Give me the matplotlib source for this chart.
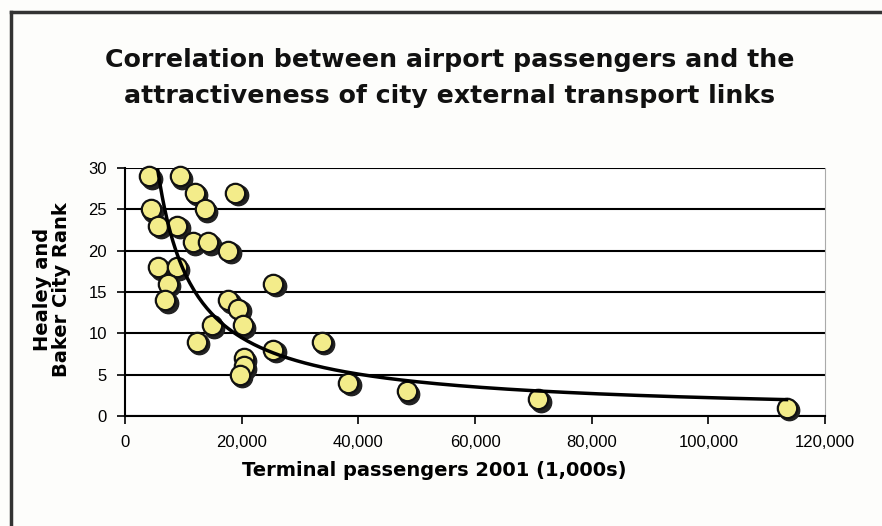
import matplotlib
matplotlib.use("Agg")
import matplotlib.pyplot as plt
import matplotlib.transforms as mtransforms
import numpy as np

# data
passengers = [4200, 9400, 12000, 18900, 4400, 13700, 5700, 9000, 11600, 14300,
              17700, 5700, 8900, 7300, 25400, 6900, 17700, 19400, 14900, 20200,
              12300, 33700, 25400, 20400, 20400, 19700, 38300, 48300, 70800, 113400]
rank = [29, 29, 27, 27, 25, 25, 23, 23, 21, 21,
        20, 18, 18, 16, 16, 14, 14, 13, 11, 11,
        9, 9, 8, 7, 6, 5, 4, 3, 2, 1]
x_ticks = [0, 20000, 40000, 60000, 80000, 100000, 120000]
y_ticks = [0, 5, 10, 15, 20, 25, 30]

fig = plt.figure(figsize=(8.82, 5.26), dpi=100)
fig.patch.set_facecolor("#fdfdfb")

# frame around the picture (top and left edges visible)
fig.add_artist(plt.Line2D([0.012, 1.0], [0.977, 0.977], color="#333333", lw=2.5))
fig.add_artist(plt.Line2D([0.013, 0.013], [0.0, 0.977], color="#333333", lw=2.5))

fig.text(0.51, 0.886, "Correlation between airport passengers and the",
         ha="center", va="center", fontsize=18.2, fontweight="bold",
         family="DejaVu Sans", color="#111111")
fig.text(0.51, 0.818, "attractiveness of city external transport links",
         ha="center", va="center", fontsize=18.2, fontweight="bold",
         family="DejaVu Sans", color="#111111")

ax = fig.add_axes([0.1417, 0.2091, 0.7937, 0.4715])
ax.set_facecolor("white")

# power trendline fitted on log-log scale
xa = np.array(passengers, dtype=float)
ya = np.array(rank, dtype=float)
b, loga = np.polyfit(np.log(xa), np.log(ya), 1)
xs = np.linspace(xa.min(), xa.max(), 300)
ax.plot(xs, np.exp(loga) * xs ** b, color="black", lw=2.5, zorder=5)

# shadow then markers
shadow = mtransforms.offset_copy(ax.transData, fig=fig, x=2.5, y=-2.5, units="dots")
ax.scatter(passengers, rank, s=215, color="#222222", transform=shadow, zorder=3,
           clip_on=False)
ax.scatter(passengers, rank, s=195, facecolor="#f3ec8a", edgecolor="#111111",
           linewidth=1.6, zorder=4, clip_on=False)

ax.set_xlim(0, 120000)
ax.set_ylim(0, 30)
ax.set_xticks(x_ticks)
ax.set_xticklabels([f"{v:,}" for v in x_ticks])
ax.set_yticks(y_ticks)
ax.yaxis.grid(True, color="black", lw=1.5)
ax.set_axisbelow(True)
ax.tick_params(axis="both", labelsize=12, length=6, width=1.2, color="black",
               direction="out")
ax.tick_params(axis="x", pad=8)
ax.tick_params(axis="y", pad=7)
for t in ax.get_xticklabels() + ax.get_yticklabels():
    t.set_family("Liberation Sans")

ax.spines["top"].set_visible(False)
ax.spines["right"].set_color("#aaaaaa")
ax.spines["left"].set_linewidth(1.5)
ax.spines["bottom"].set_linewidth(1.5)

fig.text(0.4926, 0.106, "Terminal passengers 2001 (1,000s)", ha="center", va="center",
         fontsize=14, fontweight="bold", family="DejaVu Sans")
fig.text(0.059, 0.449, "Healey and\nBaker City Rank", ha="center", va="center",
         rotation=90, fontsize=14, fontweight="bold", family="DejaVu Sans",
         linespacing=1.0)

fig.savefig("out.png", dpi=100, facecolor=fig.get_facecolor())
